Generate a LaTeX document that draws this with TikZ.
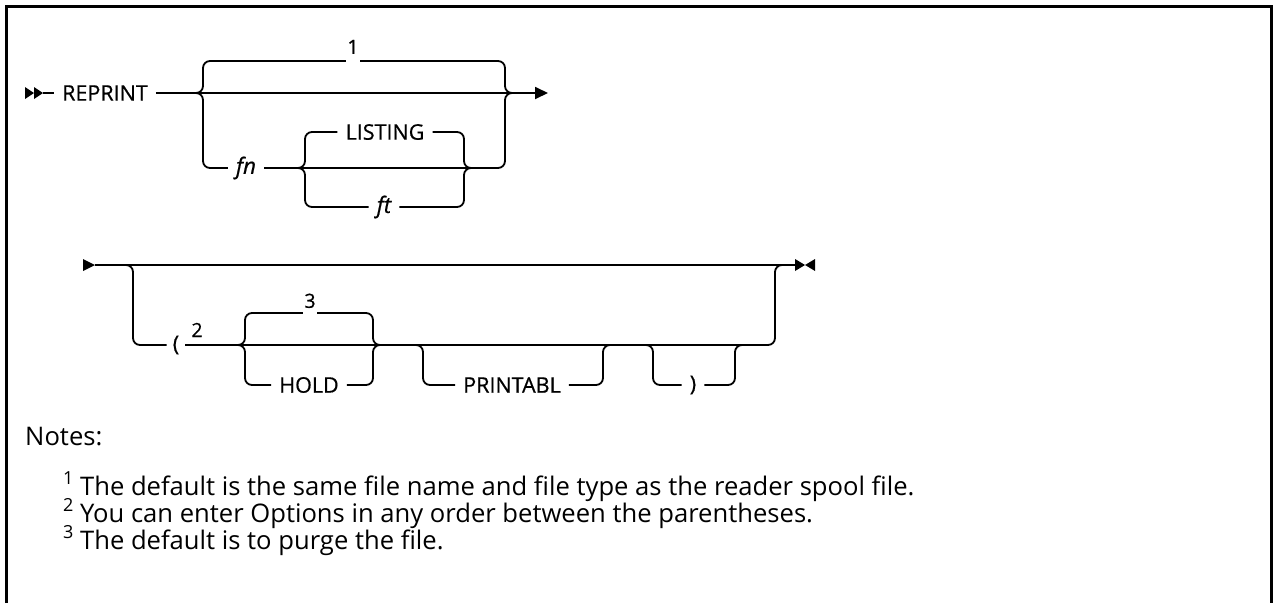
\documentclass[tikz,border=0pt]{standalone}
\usepackage{fontspec}
\setmainfont{Open Sans}
\usetikzlibrary{positioning,arrows.meta}
\newcommand{\noteref}[1]{\raisebox{0.42em}{\fontsize{18}{20}\selectfont #1}}

\begin{document}
\begin{tikzpicture}[x=1pt, y=-1pt,
  rail/.style={line width=1.8pt, rounded corners=7pt},
  kw/.style={font=\fontsize{21.5}{24}\selectfont\addfontfeature{FakeBold=0.6}, inner xsep=8pt, inner ysep=0pt},
  var/.style={kw, font=\fontsize{22.5}{24}\selectfont\itshape\addfontfeature{FakeBold=0.6}},
  ref/.style={font=\fontsize{19.5}{22}\selectfont\addfontfeature{FakeBold=0.6}, inner xsep=1pt, inner ysep=0pt, fill=white},
  note/.style={font=\fontsize{25.6}{27}\selectfont, anchor=base west, inner sep=0pt},
  endtip/.style={-{Triangle[length=13pt,width=12pt]}}
]
\useasboundingbox (0,0) rectangle (1273,603);
\draw[line width=3pt] (6.5,603) -- (6.5,6.5) -- (1271.5,6.5) -- (1271.5,603);

% first row
\fill (25,87) -- (34,93) -- (25,99) -- cycle (34,87) -- (43,93) -- (34,99) -- cycle;
\coordinate (start1) at (43,93);
\node[kw] (reprint) at (105,93) {REPRINT};
\coordinate (split1) at (196,93);
\coordinate (join1) at (512,93);
\coordinate (end1) at (548,93);
\node[var] (fn) at (246,168) {fn};
\coordinate (split2) at (298,168);
\node[kw] (listing) at (385,132) {LISTING};
\node[var] (ft) at (384,207) {ft};
\coordinate (join2) at (470,168);

\draw[rail] (start1) -- (reprint);
\draw[rail, endtip] (reprint) -- (end1);
\draw[rail] (split1) -| (203,61) -- (505,61) |- (join1);
\draw[rail] (split1) -| (203,168) -- (fn);
\draw[rail] (fn) -- (split2);
\draw[rail] (split2) -| (305,132) -- (listing);
\draw[rail] (listing) -- (464,132) |- (join2);
\draw[rail] (split2) -- (join2);
\draw[rail] (split2) -| (305,207) -- (ft);
\draw[rail] (ft) -- (464,207) |- (join2);
\draw[rail] (join2) -- (505,168) |- (join1);
\node[ref, anchor=south, text depth=9pt] (ref1) at (353,63) {1};

% second row
\fill (83,259) -- (95,265) -- (83,271) -- cycle;
\coordinate (start2) at (95,265);
\coordinate (end2) at (795,265);
\fill (795,259) -- (805,265) -- (795,271) -- cycle (815,259) -- (805,265) -- (815,271) -- cycle;
\coordinate (split3) at (123,265);
\node[kw, inner xsep=6pt] (lparen) at (176,345) {(};
\node[ref, anchor=base] (ref2) at (197,337) {2};
\coordinate (split4) at (236,345);
\node[kw] (hold) at (309,385) {HOLD};
\coordinate (join4) at (380,345);
\node[kw] (printabl) at (512,385) {PRINTABL};
\node[kw, inner xsep=8pt] (rparen) at (693,385) {)};
\coordinate (join3) at (782,265);

\draw[rail] (start2) -- (end2);
\draw[rail] (split3) -| (133,345) -- (lparen);
\draw[rail] (lparen) -- (split4);
\draw[rail] (split4) -| (245,313) -- (373,313) |- (join4);
\draw[rail] (split4) -- (join4);
\draw[rail] (split4) -| (245,385) -- (hold);
\draw[rail] (hold) -- (373,385) |- (join4);
\draw[rail] (join4) -- (775,345) |- (join3);
\draw[rail] (415,345) -| (423,385) -- (printabl);
\draw[rail] (printabl) -- (603,385) |- (612,345);
\draw[rail] (643,345) -| (653,385) -- (rparen);
\draw[rail] (rparen) -- (735,385) |- (744,345);
\node[ref, anchor=south, text depth=7pt] (ref3) at (310,315) {3};

% notes
\node[note] (notes) at (25,445) {Notes:};
\node[note] (note1) at (63,495) {\noteref{1} The default is the same file name and file type as the reader spool file.};
\node[note] (note2) at (63,522) {\noteref{2} You can enter Options in any order between the parentheses.};
\node[note] (note3) at (63,549) {\noteref{3} The default is to purge the file.};
\end{tikzpicture}
\end{document}
